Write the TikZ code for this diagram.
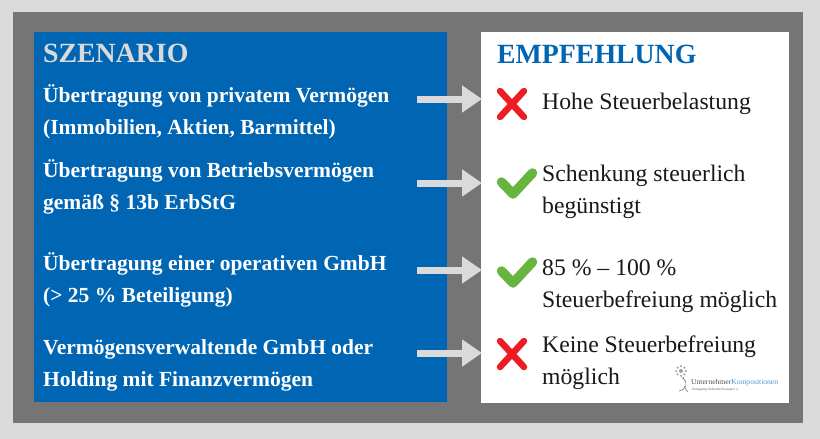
\documentclass[tikz,border=0pt]{standalone}
\usepackage{fontspec}
\setmainfont{Liberation Serif}
\usepackage{tikz}
\usetikzlibrary{arrows.meta}
\definecolor{pagegray}{HTML}{DADADA}
\definecolor{framegray}{HTML}{757575}
\definecolor{panelblue}{HTML}{0065B3}
\definecolor{crossred}{HTML}{ED1C24}
\definecolor{checkgreen}{HTML}{66B53F}
\definecolor{logoblue}{HTML}{4F9BCB}
\definecolor{logogray}{HTML}{555555}
\begin{document}
\begin{tikzpicture}[x=1pt,y=-1pt]

    \tikzset{titlestyle/.style={anchor=base west,inner sep=0pt,font=\fontsize{27.8}{32}\selectfont\bfseries},
        scenariostyle/.style={anchor=base west,inner sep=0pt,align=left,text=white,font=\fontsize{21.5}{32}\selectfont\bfseries},
        resultstyle/.style={anchor=base west,inner sep=0pt,align=left,text=black!90,font=\fontsize{23.7}{31.5}\selectfont},
        crossmark/.pic={\draw[crossred,line width=6.5pt,line cap=round] (-12,-13) -- (12,13) (12,-13) -- (-12,13);},
        checkmark/.pic={\draw[checkgreen,line width=9.5pt,line cap=round,line join=round] (-12.5,-4) -- (-1,8) -- (18.5,-13);}}

    \fill[pagegray] (0,0) rectangle (820,439);
    \fill[framegray] (13,12) rectangle (803,423);
    \fill[panelblue] (34,32) rectangle (447,402);
    \fill[white] (481,32) rectangle (789,403);

    \node[titlestyle,text=pagegray] (szenario) at (43,62) {SZENARIO};
    \node[scenariostyle] (s1) at (43,134) {Übertragung von privatem Vermögen\\(Immobilien, Aktien, Barmittel)};
    \node[scenariostyle] (s2) at (43,209) {Übertragung von Betriebsvermögen\\gemäß § 13b ErbStG};
    \node[scenariostyle] (s3) at (43,302) {Übertragung einer operativen GmbH\\(> 25 \% Beteiligung)};
    \node[scenariostyle] (s4) at (43,386) {Vermögensverwaltende GmbH oder\\Holding mit Finanzvermögen};

    \node[titlestyle,text=panelblue] (empfehlung) at (497,63) {EMPFEHLUNG};
    \node[resultstyle] (r1) at (542,109) {Hohe Steuerbelastung};
    \node[resultstyle] (r2) at (542,213) {Schenkung steuerlich\\begünstigt};
    \node[resultstyle] (r3) at (542,307) {85 \% – 100 \%\\Steuerbefreiung möglich};
    \node[resultstyle] (r4) at (542,384) {Keine Steuerbefreiung\\möglich};

    \pic (c1) at (512,104) {crossmark};
    \pic (c2) at (514,186) {checkmark};
    \pic (c3) at (514,275) {checkmark};
    \pic (c4) at (512,354) {crossmark};

    \coordinate (a1) at (417,99);
    \coordinate (b1) at (482,99);
    \coordinate (a2) at (417,183);
    \coordinate (b2) at (482,183);
    \coordinate (a3) at (417,270);
    \coordinate (b3) at (482,270);
    \coordinate (a4) at (417,353);
    \coordinate (b4) at (482,353);

    \begin{scope}[every path/.style={-{Triangle[length=20pt,width=26pt]},line width=7pt,pagegray}]
        \draw (a1) -- (b1);
        \draw (a2) -- (b2);
        \draw (a3) -- (b3);
        \draw (a4) -- (b4);
    \end{scope}

    \node[anchor=base west,inner sep=0pt,font=\fontsize{7.6}{8}\selectfont,text=logogray] (logo) at (691,384) {Unternehmer\textcolor{logoblue}{Kompositionen}};
    \node[anchor=base west,inner sep=0pt,font=\fontsize{3.3}{4}\selectfont,text=logogray] (slogan) at (692,390) {Einzigartig fördernde Konzepte! ;)};
    \foreach \a in {0,45,...,315} {
        \fill[logogray!55] (681,371) ++(\a:4.8) circle (1.2);
    }
    \fill[logogray!55] (681,371) circle (2);
    \draw[logogray!70,line width=0.7pt] (683,378) .. controls (689,384) and (686,389) .. (679,391);
    \draw[logogray!70,line width=0.7pt] (684,386) .. controls (686,390) and (687,391) .. (688,392);
    \fill[logogray!70] (683,378) circle (1);
\end{tikzpicture}
\end{document}
